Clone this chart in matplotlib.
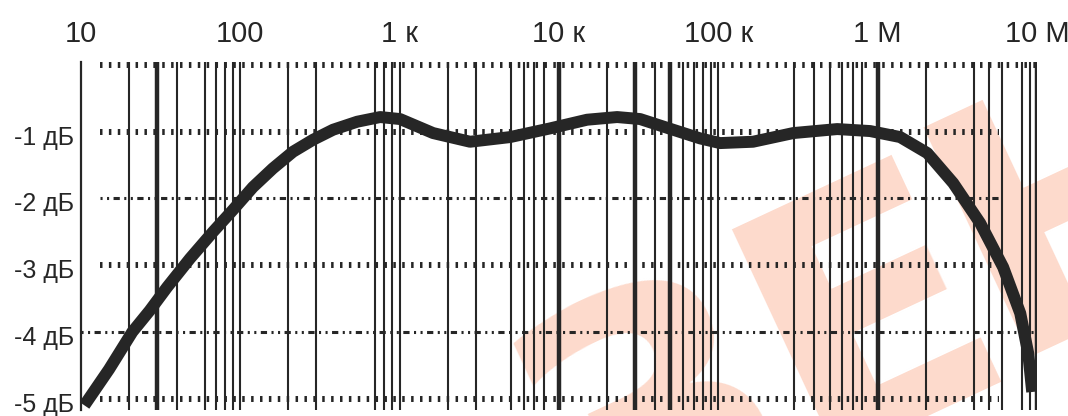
import matplotlib
matplotlib.use("Agg")
import matplotlib.pyplot as plt
import matplotlib.transforms as mtransforms

# frequency response
freq = [10.5, 15, 21, 27, 34.7, 48.3, 67.4, 90, 120, 160, 214, 286, 382,
        541, 754, 1006, 1621, 2767, 4934, 8790, 15000, 23160, 32300,
        52000, 76900, 102600, 165000, 295000, 557000, 898000, 1384000,
        2050000, 2980000, 4400000, 6130000, 7850000, 8810000, 9330000]
gain = [-5.1, -4.56, -4.0, -3.68, -3.33, -2.9, -2.5, -2.17, -1.83, -1.55,
        -1.3, -1.12, -0.97, -0.85, -0.78, -0.81, -1.02, -1.15, -1.08,
        -0.95, -0.82, -0.78, -0.81, -0.97, -1.1, -1.17, -1.15, -1.02,
        -0.96, -0.99, -1.08, -1.32, -1.77, -2.37, -3.03, -3.72, -4.32,
        -4.9]

x_ticks = [10, 100, 1e3, 1e4, 1e5, 1e6, 1e7]
x_labels = ['10', '100', '1 к', '10 к', '100 к', '1 M', '10 M']
y_ticks = [-1, -2, -3, -4, -5]
y_labels = ['-1 дБ', '-2 дБ', '-3 дБ', '-4 дБ', '-5 дБ']

# vertical grid lines that are present in the original (some are missing / doubled)
grid_thin = [20, 40, 60, 70, 80, 90, 100,
             200, 300, 700, 800, 900, 1000,
             2000, 3000, 5000, 6000, 7000, 8000,
             20000, 40000, 60000, 70000, 80000, 90000, 100000,
             300000, 400000, 500000, 600000, 700000, 800000,
             2e6, 4e6, 5e6, 6e6, 8e6, 9e6]
grid_thick = [30, 10000, 30000, 50000, 1e6, 1e7]

INK = '#262626'
plt.rcParams['font.family'] = ['Liberation Sans', 'DejaVu Sans']
plt.rcParams['lines.scale_dashes'] = False

fig = plt.figure(figsize=(10.68, 4.16), dpi=100)
ax = fig.add_axes([81/1068, 6/416, 956/1068, 348/416])

# watermark, kept behind everything else in the axes
for ch, px, py in [('З', 589, 569), ('Е', 806, 458), ('Н', 998, 357)]:
    ax.text(px/1068, 1 - py/416, ch, fontsize=250, fontweight='bold',
            color='#fddacc', rotation=25, rotation_mode='anchor',
            ha='left', va='baseline', family='DejaVu Sans', zorder=0,
            transform=fig.transFigure, clip_on=False)

ax.set_xscale('log')
ax.set_xlim(10, 1e7)
ax.set_ylim(-5.17, 0.045)

for f in grid_thin:
    ax.axvline(f, color=INK, lw=1.5, zorder=1)
for f in grid_thick:
    ax.axvline(f, color=INK, lw=3.2, zorder=1)

# horizontal dotted lines
bars = dict(color=INK, lw=4.3, dashes=(1.8, 4.6), dash_capstyle='butt', zorder=1)
dots = dict(color=INK, lw=2.2, dashes=(1.5, 3.2, 1.5, 3.2, 4.5, 3.2), dash_capstyle='butt', zorder=1)
ax.axhline(0, xmin=0.02, xmax=1.0, **bars)
ax.axhline(-1, xmin=0.02, xmax=0.96, **bars)
ax.axhline(-2, xmin=0.02, xmax=0.96, **dots)
ax.axhline(-3, xmin=0.02, xmax=0.96, **bars)
ax.axhline(-4, xmin=0.0, xmax=1.0, **dots)
ax.axhline(-5, xmin=0.02, xmax=0.96, **bars)

ax.plot(freq, gain, color=INK, lw=8.6, solid_capstyle='butt', solid_joinstyle='round', zorder=3)

for s in ['top', 'right', 'bottom']:
    ax.spines[s].set_visible(False)
ax.spines['left'].set_linewidth(1.6)
ax.spines['left'].set_color(INK)

ax.minorticks_off()
ax.set_xticks(x_ticks)
ax.set_xticklabels(x_labels)
ax.tick_params(axis='x', top=True, labeltop=True, bottom=False, labelbottom=False,
               length=0, pad=10, labelsize=21, labelcolor=INK)
ax.set_yticks([])
trans = mtransforms.blended_transform_factory(fig.transFigure, ax.transData)
for v, lab in zip(y_ticks, y_labels):
    ax.text(74/1068, v - 0.09, lab, transform=trans, ha='right', va='center',
            fontsize=18, color=INK)

fig.savefig('out.png', dpi=100)
